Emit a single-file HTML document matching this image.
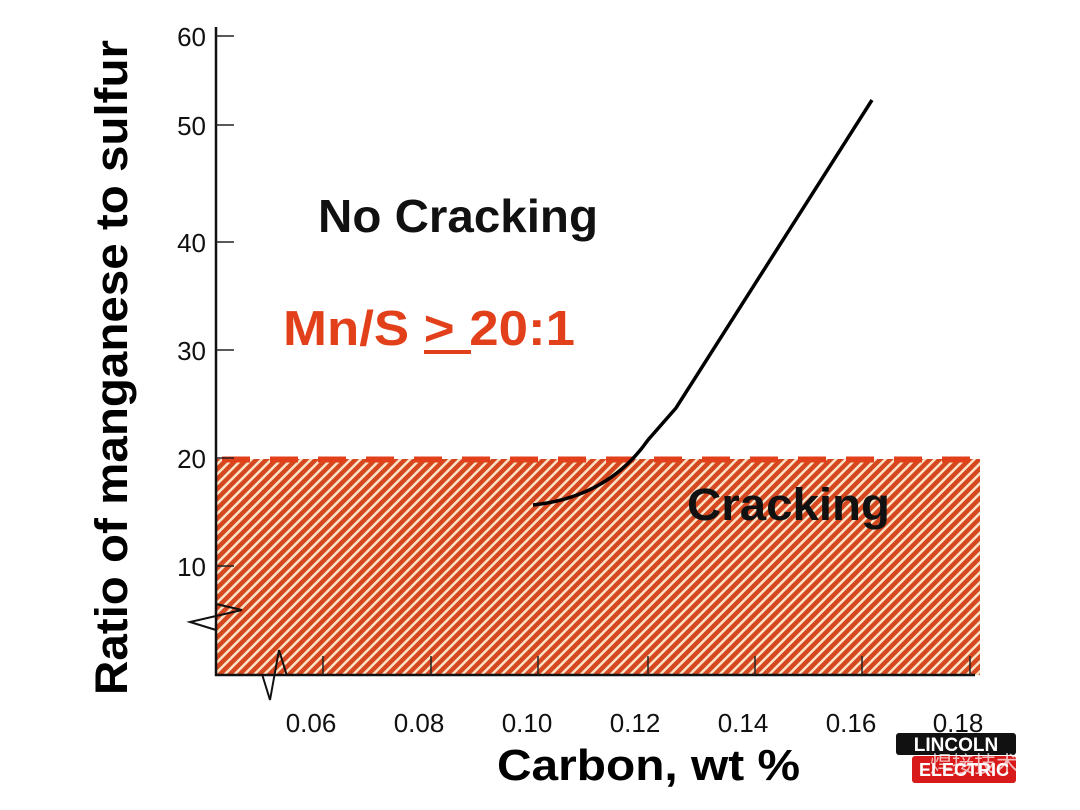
<!DOCTYPE html>
<html><head><meta charset="utf-8"><style>
html,body{margin:0;padding:0;background:#fff;}
svg{display:block;}
text{font-family:"Liberation Sans",Arial,sans-serif;}
</style></head><body>
<svg width="1080" height="810" viewBox="0 0 1080 810" xmlns="http://www.w3.org/2000/svg">
<defs>
<pattern id="h" patternUnits="userSpaceOnUse" width="7" height="7" patternTransform="rotate(45)">
<rect width="7" height="7" fill="#fbe3c8"/>
<rect width="4.5" height="7" fill="#d5481f"/>
</pattern>
</defs>
<rect x="216" y="459" width="764" height="216" fill="url(#h)"/>
<line x1="222" y1="459.5" x2="980" y2="459.5" stroke="#e2401a" stroke-width="6" stroke-dasharray="28 20"/>
<line x1="216" y1="27" x2="216" y2="676" stroke="#111" stroke-width="2.5"/>
<line x1="215" y1="675" x2="975" y2="675" stroke="#111" stroke-width="2.5"/>
<g stroke="#222" stroke-width="1.5">
<line x1="216" y1="36" x2="234" y2="36"/>
<line x1="216" y1="125" x2="234" y2="125"/>
<line x1="216" y1="242" x2="234" y2="242"/>
<line x1="216" y1="350" x2="234" y2="350"/>
<line x1="216" y1="458" x2="234" y2="458"/>
<line x1="216" y1="566" x2="234" y2="566"/>
<line x1="323" y1="675" x2="323" y2="656"/>
<line x1="431" y1="675" x2="431" y2="656"/>
<line x1="538" y1="675" x2="538" y2="656"/>
<line x1="648" y1="675" x2="648" y2="656"/>
<line x1="755" y1="675" x2="755" y2="656"/>
<line x1="862" y1="675" x2="862" y2="656"/>
<line x1="970" y1="675" x2="970" y2="656"/>
</g>
<polyline points="216,604 242,610 190,622 216,630" fill="none" stroke="#111" stroke-width="2"/>
<polyline points="262,674 270,700 279,650 287,676" fill="none" stroke="#111" stroke-width="2"/>
<g font-size="26" fill="#111" text-anchor="end">
<text x="206" y="46">60</text>
<text x="206" y="135">50</text>
<text x="206" y="252">40</text>
<text x="206" y="360">30</text>
<text x="206" y="468">20</text>
<text x="206" y="576">10</text>
</g>
<g font-size="26" fill="#111" text-anchor="middle">
<text x="311" y="732">0.06</text>
<text x="419" y="732">0.08</text>
<text x="527" y="732">0.10</text>
<text x="635" y="732">0.12</text>
<text x="743" y="732">0.14</text>
<text x="851" y="732">0.16</text>
<text x="958" y="732">0.18</text>
</g>
<path d="M533,505 C580,500 620,480 648,440 L676,408 L872,100" fill="none" stroke="#000" stroke-width="3.5"/>
<text x="0" y="0" font-size="45" font-weight="bold" fill="#000" textLength="655" lengthAdjust="spacingAndGlyphs" transform="translate(127 695) rotate(-90)">Ratio of manganese to sulfur</text>
<text x="318" y="232" font-size="46" font-weight="bold" fill="#111" textLength="280" lengthAdjust="spacingAndGlyphs">No Cracking</text>
<text x="283" y="345" font-size="49" font-weight="bold" fill="#e2401a" textLength="292" lengthAdjust="spacingAndGlyphs">Mn/S &gt; 20:1</text>
<line x1="424" y1="352" x2="471" y2="352" stroke="#e2401a" stroke-width="4"/>
<text x="687" y="520" font-size="45" font-weight="bold" fill="#111" textLength="203" lengthAdjust="spacingAndGlyphs">Cracking</text>
<text x="497" y="780" font-size="44" font-weight="bold" fill="#000" textLength="303" lengthAdjust="spacingAndGlyphs">Carbon, wt %</text>
<rect x="896" y="733" width="120" height="22" rx="3" fill="#111"/>
<text x="956" y="751" font-size="19" font-weight="bold" fill="#fff" text-anchor="middle">LINCOLN</text>
<rect x="912" y="756" width="104" height="27" rx="3" fill="#d81a1a"/>
<text x="964" y="776" font-size="18" font-weight="bold" fill="#fff" text-anchor="middle">ELECTRIC</text>
<text x="930" y="772" font-size="22" fill="#fff" opacity="0.7" style="font-family:'Liberation Sans','Noto Sans CJK SC',sans-serif">焊接技术</text>
</svg>
</body></html>
